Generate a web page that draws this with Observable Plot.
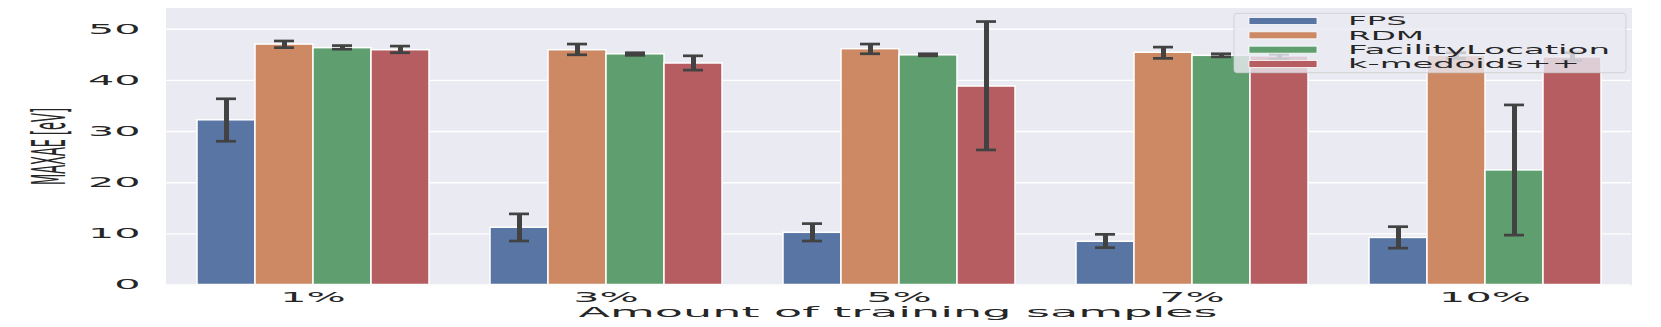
<!DOCTYPE html>
<html>
<head>
<meta charset="utf-8">
<script src="https://cdn.jsdelivr.net/npm/d3@7"></script>
<script src="https://cdn.jsdelivr.net/npm/@observablehq/plot@0.6"></script>
<style>
  body { margin: 0; background: #ffffff; }
  svg { display: block; }
</style>
</head>
<body>
<div id="chart"></div>
<script>
// ---- data ----
const categories = ["1%", "3%", "5%", "7%", "10%"];
const methods = ["FPS", "RDM", "FacilityLocation", "k-medoids++"];
const colors = ["#5975a4", "#cc8963", "#5f9e6e", "#b55d60"];
const yTicks = [0, 10, 20, 30, 40, 50];

const fpsMean = [32.2, 11.2, 10.2, 8.45, 9.2];
const fpsLow  = [28.1, 8.6, 8.6, 7.3, 7.2];
const fpsHigh = [36.4, 13.9, 12.0, 9.9, 11.4];

const rdmMean = [47.0, 45.9, 46.1, 45.4, 44.8];
const rdmLow  = [46.4, 45.0, 45.2, 44.3, 44.3];
const rdmHigh = [47.7, 47.1, 47.1, 46.5, 45.4];

const flMean = [46.3, 45.1, 44.9, 44.8, 22.4];
const flLow  = [46.1, 44.9, 44.8, 44.6, 9.75];
const flHigh = [46.8, 45.4, 45.2, 45.2, 35.2];

const kmMean = [45.9, 43.3, 38.8, 44.7, 44.5];
const kmLow  = [45.4, 42.0, 26.4, 44.2, 43.9];
const kmHigh = [46.7, 44.8, 51.5, 45.1, 45.4];

const means = [fpsMean, rdmMean, flMean, kmMean];
const lows = [fpsLow, rdmLow, flLow, kmLow];
const highs = [fpsHigh, rdmHigh, flHigh, kmHigh];

const rows = [];
categories.forEach((c, i) => methods.forEach((m, j) => {
  rows.push({cat: c, method: m, mean: means[j][i], lo: lows[j][i], hi: highs[j][i]});
}));

const errColor = "#424242";
const textColor = "#262626";

const plot = Plot.plot({
  width: 1661,
  height: 327,
  marginLeft: 165,
  marginRight: 30,
  marginTop: 8,
  marginBottom: 42.5,
  style: {fontFamily: "'DejaVu Sans', sans-serif", color: textColor, background: "white", overflow: "visible"},
  fx: {domain: categories, padding: 0, label: null},
  x: {domain: methods, paddingInner: 0, paddingOuter: 0.5, axis: null},
  y: {domain: [0, 54.05], label: null},
  color: {domain: methods, range: colors},
  marks: [
    Plot.frame({fill: "#eaeaf2", stroke: "#eaeaf2", strokeWidth: 1}),
    Plot.gridY(yTicks, {stroke: "white", strokeOpacity: 1, strokeWidth: 1.4}),
    Plot.barY(rows, {fx: "cat", x: "method", y: "mean", fill: "method", stroke: "white", strokeWidth: 1.5}),
    Plot.ruleX(rows, {fx: "cat", x: "method", y1: "lo", y2: "hi", stroke: errColor, strokeWidth: 5}),
    Plot.tickY(rows, {fx: "cat", x: "method", y: "lo", stroke: errColor, strokeWidth: 2.7, insetLeft: 19, insetRight: 19}),
    Plot.tickY(rows, {fx: "cat", x: "method", y: "hi", stroke: errColor, strokeWidth: 2.7, insetLeft: 19, insetRight: 19}),
    Plot.axisY(yTicks, {tickSize: 0, tickPadding: 26, fontSize: 14, label: null}),
    Plot.axisFx({anchor: "bottom", tickSize: 0, tickPadding: 7, fontSize: 14, label: null})
  ]
});

document.getElementById("chart").append(plot);

const svg = d3.select(plot);

// horizontally stretched tick labels, as in the reference
svg.selectAll("text").each(function() {
  const L = this.getComputedTextLength();
  if (L > 0) {
    this.setAttribute("textLength", L * 2.95);
    this.setAttribute("lengthAdjust", "spacingAndGlyphs");
  }
});

// axis titles
svg.append("text")
  .attr("x", 898).attr("y", 317)
  .attr("text-anchor", "middle")
  .attr("font-size", 14.5)
  .attr("fill", textColor)
  .attr("textLength", 639)
  .attr("lengthAdjust", "spacingAndGlyphs")
  .text("Amount of training samples");

const yTitle = svg.append("text")
  .attr("text-anchor", "middle")
  .attr("font-size", 46)
  .attr("fill", textColor)
  .text("MAXAE [eV]");
const yNat = yTitle.node().getComputedTextLength();
yTitle.attr("transform", `translate(65,146.5) rotate(-90) scale(${77 / yNat},1)`);

// legend
const lg = svg.append("g").attr("text-anchor", "start");
lg.append("rect")
  .attr("x", 1234).attr("y", 13.3).attr("width", 392).attr("height", 59.4)
  .attr("rx", 3)
  .attr("fill", "#eaeaf2").attr("fill-opacity", 0.8)
  .attr("stroke", "#cccccc").attr("stroke-opacity", 0.8).attr("stroke-width", 1);
const legendLens = [59, 76, 262, 232];
methods.forEach((m, j) => {
  const cy = 21 + j * 14.33;
  lg.append("rect")
    .attr("x", 1249).attr("y", cy - 3.5).attr("width", 68).attr("height", 7)
    .attr("fill", colors[j]).attr("stroke", "white").attr("stroke-width", 0.8);
  lg.append("text")
    .attr("x", 1348).attr("y", cy + 4.2)
    .attr("text-anchor", "start")
    .attr("font-size", 12.5)
    .attr("fill", textColor)
    .attr("textLength", legendLens[j])
    .attr("lengthAdjust", "spacingAndGlyphs")
    .text(m);
});
</script>
</body>
</html>
